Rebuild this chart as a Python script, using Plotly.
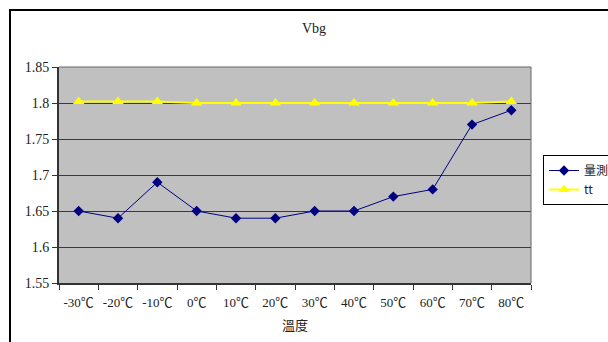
import plotly.graph_objects as go

categories = ["-30℃", "-20℃", "-10℃", "0℃", "10℃", "20℃",
              "30℃", "40℃", "50℃", "60℃", "70℃", "80℃"]
measured = [1.65, 1.64, 1.69, 1.65, 1.64, 1.64, 1.65, 1.65, 1.67, 1.68, 1.77, 1.79]
tt = [1.802, 1.802, 1.802, 1.80, 1.80, 1.80, 1.80, 1.80, 1.80, 1.80, 1.80, 1.802]
y_ticks = [1.55, 1.6, 1.65, 1.7, 1.75, 1.8, 1.85]

W, H = 608, 342
L, R, T, B = 59, 531, 67, 283  # plot area in pixels
pw, ph = R - L, B - T

def px(x):
    return (x - L) / pw

def py(y):
    return (B - y) / ph

serif = "'Liberation Serif', 'Noto Sans CJK TC', serif"
cjk = "'Noto Sans CJK TC', 'Liberation Serif', sans-serif"

fig = go.Figure()
fig.add_trace(go.Scatter(
    x=categories, y=measured, name="量測", mode="lines+markers",
    line=dict(color="#000080", width=1),
    marker=dict(symbol="diamond", size=8, color="#000080"),
))
fig.add_trace(go.Scatter(
    x=categories, y=tt, name="tt", mode="lines+markers",
    line=dict(color="#FFFF00", width=2),
    marker=dict(symbol="triangle-up", size=10, color="#FFFF00"),
))

fig.update_layout(
    width=W, height=H,
    margin=dict(l=L, r=W - R, t=T, b=H - B, autoexpand=False),
    paper_bgcolor="white",
    plot_bgcolor="#C0C0C0",
    font=dict(family=serif, size=13, color="#222222"),
    title=dict(text="Vbg", x=px(314), xref="paper", xanchor="center",
               y=1 - 28 / H, yanchor="middle",
               font=dict(family=serif, size=14, color="#222222")),
    showlegend=True,
    legend=dict(x=px(543), y=py(155), xanchor="left", yanchor="top",
                bordercolor="#000000", borderwidth=1, bgcolor="white",
                font=dict(family=cjk, size=12, color="#222222"),
                tracegroupgap=0, itemwidth=30),
    xaxis=dict(
        type="category", tickson="boundaries", ticks="outside", ticklen=5,
        tickcolor="#333333", showline=True, linecolor="#333333", linewidth=2,
        mirror=False, showgrid=False, tickangle=0, ticklabelstandoff=6,
        tickfont=dict(family=serif, size=13, color="#222222"),
        title=dict(text="溫度", font=dict(family=cjk, size=13, color="#222222"), standoff=12),
        range=[-0.5, 11.5],
    ),
    yaxis=dict(
        range=[1.55, 1.85], tickvals=y_ticks,
        ticktext=[f"{v:g}" for v in y_ticks],
        ticks="outside", ticklen=5, tickcolor="#333333",
        showline=True, linecolor="#333333", linewidth=2,
        showgrid=True, gridcolor="#3a3a3a", gridwidth=1,
        zeroline=False, tickfont=dict(family=serif, size=14, color="#222222"),
    ),
    shapes=[
        # outer frame of the chart
        dict(type="rect", xref="paper", yref="paper",
             x0=px(10), x1=px(W + 20), y0=py(H + 20), y1=py(10),
             line=dict(color="#000000", width=2), layer="below"),
        # plot area top/right edges
        dict(type="line", xref="paper", yref="paper", x0=0, x1=1, y0=1, y1=1,
             line=dict(color="#666666", width=1)),
        dict(type="line", xref="paper", yref="paper", x0=1, x1=1, y0=0, y1=1,
             line=dict(color="#666666", width=1)),
    ],
)

fig.write_html("out.html")
